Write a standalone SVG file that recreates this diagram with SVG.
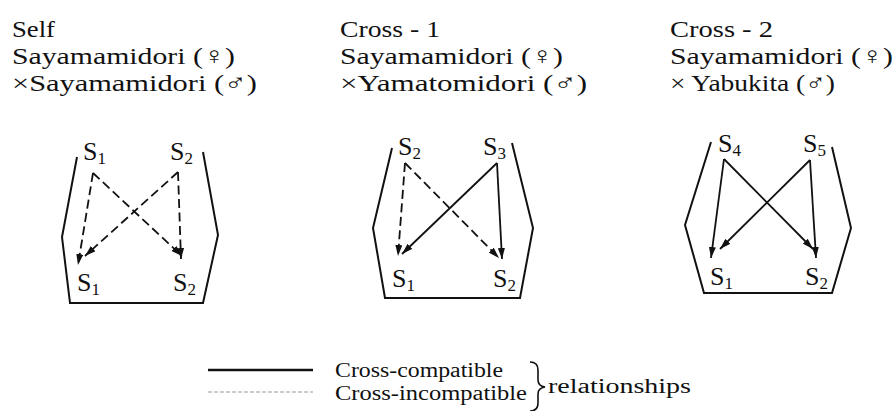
<svg xmlns="http://www.w3.org/2000/svg" width="895" height="411" viewBox="0 0 895 411">
<defs>
<style>
.hd{font-family:"Liberation Serif","DejaVu Serif",serif;font-size:24px;fill:#111}
.lb{font-family:"Liberation Serif","DejaVu Serif",serif;font-size:26px;fill:#111}
.sb{font-size:17px}
.lg{font-family:"Liberation Serif","DejaVu Serif",serif;font-size:20px;fill:#111}
.box{fill:none;stroke:#111;stroke-width:2;stroke-linejoin:miter}
.sol{fill:none;stroke:#111;stroke-width:1.8}
.dsh{fill:none;stroke:#111;stroke-width:1.8;stroke-dasharray:9 4.5}
</style>
<marker id="ah" markerUnits="userSpaceOnUse" markerWidth="11" markerHeight="7" refX="11" refY="3.5" orient="auto">
<path d="M0,0 L11,3.5 L0,7 z" fill="#111"/>
</marker>
</defs>
<rect width="895" height="411" fill="#fff"/>

<g id="header-self">
<text class="hd" x="12" y="37" textLength="43" lengthAdjust="spacingAndGlyphs">Self</text>
<text class="hd" x="12" y="64" textLength="223" lengthAdjust="spacingAndGlyphs">Sayamamidori (♀)</text>
<text class="hd" x="12" y="91" textLength="245" lengthAdjust="spacingAndGlyphs">×Sayamamidori (♂)</text>
</g>
<g id="header-cross1">
<text class="hd" x="340" y="37" textLength="100" lengthAdjust="spacingAndGlyphs">Cross - 1</text>
<text class="hd" x="340" y="64" textLength="223" lengthAdjust="spacingAndGlyphs">Sayamamidori (♀)</text>
<text class="hd" x="340" y="91" textLength="247" lengthAdjust="spacingAndGlyphs">×Yamatomidori (♂)</text>
</g>
<g id="header-cross2">
<text class="hd" x="670" y="37" textLength="103" lengthAdjust="spacingAndGlyphs">Cross - 2</text>
<text class="hd" x="670" y="64" textLength="223" lengthAdjust="spacingAndGlyphs">Sayamamidori (♀)</text>
<text class="hd" x="670" y="91" textLength="165" lengthAdjust="spacingAndGlyphs">× Yabukita (♂)</text>
</g>

<g id="panel-self">
<polyline class="box" points="77,157 62,237 70,303 203,303 218,235 203,152"/>
<g id="p1-top-s1"><text class="lb" x="83" y="160">S<tspan class="sb" dy="4">1</tspan></text></g>
<g id="p1-top-s2"><text class="lb" x="170" y="160">S<tspan class="sb" dy="4">2</tspan></text></g>
<g id="p1-bot-s1"><text class="lb" x="77" y="291">S<tspan class="sb" dy="4">1</tspan></text></g>
<g id="p1-bot-s2"><text class="lb" x="173" y="291">S<tspan class="sb" dy="4">2</tspan></text></g>
</g>

<g id="panel-cross1">
<polyline class="box" points="392,148 373,228 385,298 520,298 533,228 512,143"/>
<g id="p2-top-s2"><text class="lb" x="398" y="155">S<tspan class="sb" dy="4">2</tspan></text></g>
<g id="p2-top-s3"><text class="lb" x="483" y="155">S<tspan class="sb" dy="4">3</tspan></text></g>
<g id="p2-bot-s1"><text class="lb" x="392" y="287">S<tspan class="sb" dy="4">1</tspan></text></g>
<g id="p2-bot-s2"><text class="lb" x="493" y="287">S<tspan class="sb" dy="4">2</tspan></text></g>
</g>

<g id="panel-cross2">
<polyline class="box" points="711,142 685,225 704,293 832,293 851,228 832,147"/>
<g id="p3-top-s4"><text class="lb" x="718" y="152">S<tspan class="sb" dy="4">4</tspan></text></g>
<g id="p3-top-s5"><text class="lb" x="803" y="152">S<tspan class="sb" dy="4">5</tspan></text></g>
<g id="p3-bot-s1"><text class="lb" x="710" y="285">S<tspan class="sb" dy="4">1</tspan></text></g>
<g id="p3-bot-s2"><text class="lb" x="805" y="285">S<tspan class="sb" dy="4">2</tspan></text></g>
</g>

<g id="connectors">
<polyline class="dsh" points="93,173 78,265" marker-end="url(#ah)"/>
<polyline class="dsh" points="93,173 182,256" marker-end="url(#ah)"/>
<polyline class="dsh" points="178,172 85,256" marker-end="url(#ah)"/>
<polyline class="dsh" points="178,172 181,259" marker-end="url(#ah)"/>

<polyline class="dsh" points="405,163 398,256" marker-end="url(#ah)"/>
<polyline class="dsh" points="405,163 499,258" marker-end="url(#ah)"/>
<polyline class="sol" points="497,163 402,254" marker-end="url(#ah)"/>
<polyline class="sol" points="497,163 502,259" marker-end="url(#ah)"/>

<polyline class="sol" points="724,159 711,258" marker-end="url(#ah)"/>
<polyline class="sol" points="724,159 813,249" marker-end="url(#ah)"/>
<polyline class="sol" points="810,160 720,249" marker-end="url(#ah)"/>
<polyline class="sol" points="810,160 816,258" marker-end="url(#ah)"/>
</g>

<g id="legend">
<line x1="208" y1="370" x2="313" y2="370" stroke="#111" stroke-width="2.5"/>
<line x1="208" y1="392" x2="313" y2="392" stroke="#999" stroke-width="1" stroke-dasharray="4 2"/>
<text class="lg" x="335" y="377" textLength="168" lengthAdjust="spacingAndGlyphs">Cross-compatible</text>
<text class="lg" x="335" y="400" textLength="192" lengthAdjust="spacingAndGlyphs">Cross-incompatible</text>
<path d="M530,362 Q538,362 538,370 L538,380 Q538,386 545,387 Q538,388 538,394 L538,403 Q538,411 530,411" fill="none" stroke="#111" stroke-width="1.6"/>
<text class="lg" x="548" y="393" textLength="143" lengthAdjust="spacingAndGlyphs">relationships</text>
</g>
</svg>
